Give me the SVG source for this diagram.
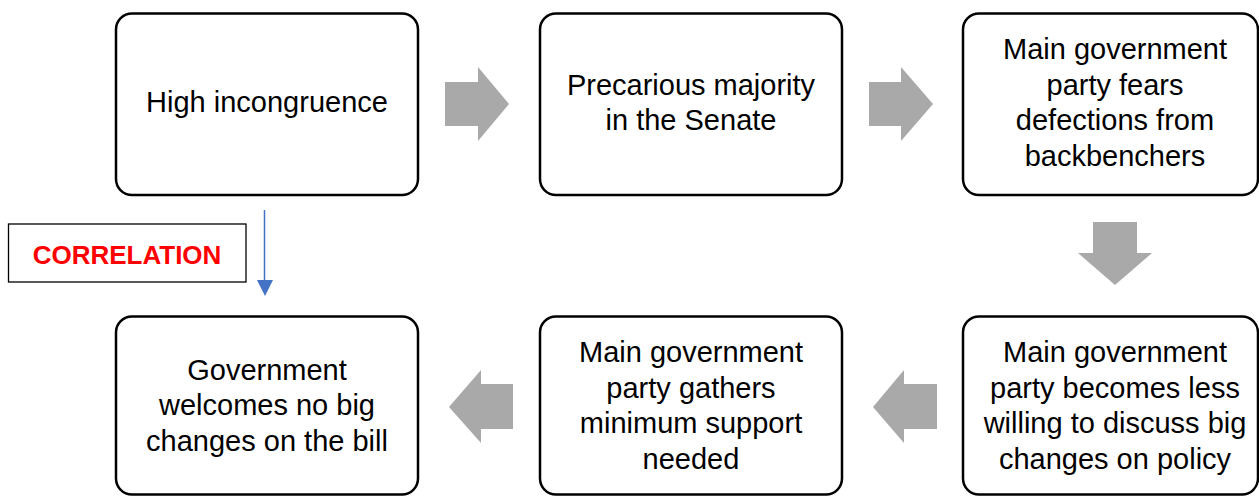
<svg xmlns="http://www.w3.org/2000/svg" width="1259" height="496" viewBox="0 0 1259 496">
<style>
.box{fill:#fff;stroke:#000;stroke-width:2.5}
.t{font-family:"Liberation Sans",Arial,sans-serif;font-size:29px;fill:#000;text-anchor:middle}
.blk{fill:#a9a9a9}
.lbl{font-family:"Liberation Sans",Arial,sans-serif;font-size:26px;font-weight:bold;fill:#ff0000;text-anchor:middle}
</style>
<rect width="1259" height="496" fill="#fff"/>
<g id="connectors">
<polygon class="blk" points="445,82 478,82 478,67 509,104 478,141 478,126 445,126"/>
<polygon class="blk" points="869,82 901,82 901,67 933,104 901,141 901,126 869,126"/>
<polygon class="blk" points="1093,222 1137,222 1137,253 1152,253 1115,285 1078,253 1093,253"/>
<polygon class="blk" points="937,384 904,384 904,370 873,407 904,443 904,429 937,429"/>
<polygon class="blk" points="513,384 481,384 481,370 449,407 481,443 481,429 513,429"/>
<line x1="264.5" y1="210" x2="264.5" y2="282" stroke="#4472c4" stroke-width="1.5"/>
<polygon points="257,280 273,280 265,296" fill="#4472c4"/>
</g>
<g id="correlation">
<rect x="8.5" y="224" width="237.5" height="58" fill="#fff" stroke="#000" stroke-width="1.3"/>
<text class="lbl" x="127" y="264">CORRELATION</text>
</g>
<g id="n1">
<rect class="box" x="116" y="13.5" width="302" height="181.5" rx="16"/>
<text class="t" x="267" y="112">High incongruence</text>
</g>
<g id="n2">
<rect class="box" x="540" y="13.5" width="302" height="181.5" rx="16"/>
<text class="t" x="691" y="94.5">Precarious majority</text>
<text class="t" x="691" y="130">in the Senate</text>
</g>
<g id="n3">
<rect class="box" x="963" y="13.5" width="295" height="181.5" rx="16"/>
<text class="t" x="1115" y="59">Main government</text>
<text class="t" x="1115" y="94.5">party fears</text>
<text class="t" x="1115" y="130">defections from</text>
<text class="t" x="1115" y="165.5">backbenchers</text>
</g>
<g id="n4">
<rect class="box" x="963" y="316.5" width="295" height="178" rx="16"/>
<text class="t" x="1115" y="362">Main government</text>
<text class="t" x="1115" y="397.5">party becomes less</text>
<text class="t" x="1115" y="433">willing to discuss big</text>
<text class="t" x="1115" y="468.5">changes on policy</text>
</g>
<g id="n5">
<rect class="box" x="540" y="316.5" width="302" height="178" rx="16"/>
<text class="t" x="691" y="362">Main government</text>
<text class="t" x="691" y="397.5">party gathers</text>
<text class="t" x="691" y="433">minimum support</text>
<text class="t" x="691" y="468.5">needed</text>
</g>
<g id="n6">
<rect class="box" x="116" y="316.5" width="302" height="178" rx="16"/>
<text class="t" x="267" y="379.5">Government</text>
<text class="t" x="267" y="415">welcomes no big</text>
<text class="t" x="267" y="450.5">changes on the bill</text>
</g>
</svg>
